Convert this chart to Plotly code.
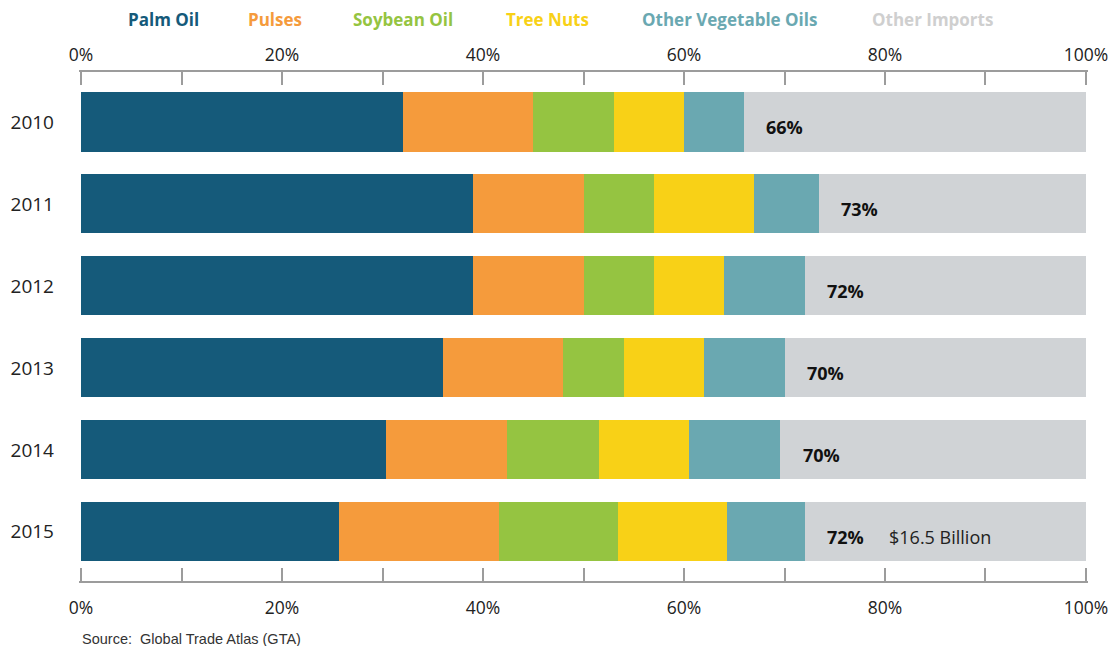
import plotly.graph_objects as go

# Share of imports by product, percent of total
years = ["2010", "2011", "2012", "2013", "2014", "2015"]
palm_oil = [32, 39, 39, 36, 30.3, 25.7]
pulses = [13, 11, 11, 12, 12.1, 15.9]
soybean_oil = [8, 7, 7, 6, 9.1, 11.8]
tree_nuts = [7, 10, 7, 8, 9.0, 10.9]
other_veg_oils = [6, 6.4, 8, 8, 9.1, 7.7]
other_imports = [
    round(100 - a - b - c - d - e, 1)
    for a, b, c, d, e in zip(palm_oil, pulses, soybean_oil, tree_nuts, other_veg_oils)
]
total_2015 = "$16.5 Billion"
tick_vals = [0, 20, 40, 60, 80, 100]
tick_text = ["0%", "20%", "40%", "60%", "80%", "100%"]

series = [
    ("Palm Oil", palm_oil, "#155A7A"),
    ("Pulses", pulses, "#F59B3C"),
    ("Soybean Oil", soybean_oil, "#95C441"),
    ("Tree Nuts", tree_nuts, "#F8D117"),
    ("Other Vegetable Oils", other_veg_oils, "#6AA8B1"),
    ("Other Imports", other_imports, "#D0D3D6"),
]

FONT = "Open Sans"
W, H = 1108, 646
ML, MR, MT, MB = 79, 20, 72, 65
XPAD = 0.2
ypos = list(range(len(years)))


def px_to_paper(px, py):
    """Convert figure pixel coordinates to plot-area paper fractions."""
    return (px - ML) / (W - ML - MR), (H - MB - py) / (H - MT - MB)


fig = go.Figure()
for name, vals, color in series:
    fig.add_trace(go.Bar(
        x=vals, y=ypos, orientation="h", name=name,
        marker=dict(color=color, line=dict(width=0)),
        width=0.72, showlegend=False, hoverinfo="x+name",
    ))

# Invisible trace so the top axis is drawn
fig.add_trace(go.Scatter(x=[0, 100], y=[0, 0], xaxis="x2", mode="markers",
                         marker=dict(opacity=0), showlegend=False, hoverinfo="skip"))

# Cumulative share labels
annotations = []
for i, yr in enumerate(years):
    covered = palm_oil[i] + pulses[i] + soybean_oil[i] + tree_nuts[i] + other_veg_oils[i]
    annotations.append(dict(
        x=covered + 2.0, y=i + 0.06, xref="x", yref="y", xanchor="left", yanchor="middle",
        text=f"<b>{round(covered)}%</b>", showarrow=False,
        font=dict(family=FONT, size=18, color="#111111"),
    ))
    if i == len(years) - 1:
        annotations.append(dict(
            x=covered + 8.2, y=i + 0.06, xref="x", yref="y", xanchor="left", yanchor="middle",
            text=total_2015, showarrow=False,
            font=dict(family=FONT, size=18, color="#222222"),
        ))

# Text-only legend across the top
legend_x = [163, 275, 403, 547, 729, 932]
legend_colors = ["#155A7A", "#F59B3C", "#95C441", "#F8D117", "#6AA8B1", "#CFCFCF"]
for (name, _, _), lx, lc in zip(series, legend_x, legend_colors):
    ax, ay = px_to_paper(lx, 20)
    annotations.append(dict(
        x=ax, y=ay, xref="paper", yref="paper",
        xanchor="center", yanchor="middle", text=f"<b>{name}</b>", showarrow=False,
        font=dict(family=FONT, size=17, color=lc),
    ))

sx, sy = px_to_paper(80, 639)
annotations.append(dict(
    x=sx, y=sy, xref="paper", yref="paper", xanchor="left", yanchor="middle",
    text="Source:  Global Trade Atlas (GTA)", showarrow=False,
    font=dict(family="Liberation Sans", size=14.5, color="#333333"),
))

axis_common = dict(
    range=[-XPAD, 100 + XPAD], tickvals=tick_vals, ticktext=tick_text,
    showline=True, linecolor="#9C9C9C", linewidth=1.5,
    ticks="inside", ticklen=13, tickwidth=1.5, tickcolor="#9C9C9C",
    minor=dict(tickvals=[10, 30, 50, 70, 90], ticks="inside", ticklen=13,
               tickwidth=1.5, tickcolor="#9C9C9C"),
    showgrid=False, zeroline=False,
    ticklabeloverflow="allow", automargin=False,
    tickfont=dict(family=FONT, size=17.5, color="#222222"),
    fixedrange=True,
)

fig.update_layout(
    width=W, height=H,
    margin=dict(l=ML, r=MR, t=MT, b=MB, autoexpand=False),
    paper_bgcolor="white", plot_bgcolor="white",
    barmode="stack",
    xaxis=dict(side="bottom", ticklabelstandoff=10, **axis_common),
    xaxis2=dict(side="top", overlaying="x", anchor="y", ticklabelstandoff=2, **axis_common),
    yaxis=dict(
        range=[5.6, -0.61], tickvals=ypos, ticktext=years,
        showline=False, showgrid=False, zeroline=False, ticks="",
        ticklabelstandoff=24, automargin=False,
        tickfont=dict(family=FONT, size=19, color="#222222"),
        fixedrange=True,
    ),
    annotations=annotations,
    bargap=0.28,
)

fig.write_html("out.html")
